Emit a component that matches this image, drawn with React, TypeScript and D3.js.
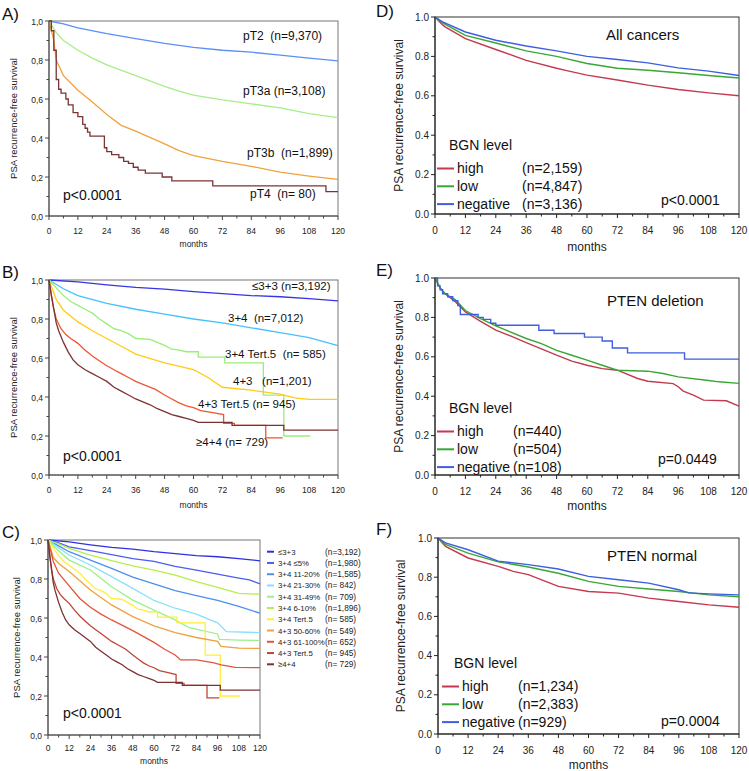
import React from 'react';
import * as d3 from 'd3';

type Pt = [number, number];

// ---------- panel A: pT stage ----------
const pT2: Pt[] = [[0,1],[6,0.985],[12,0.965],[24,0.935],[36,0.91],[48,0.885],[60,0.865],[72,0.85],[84,0.84],[96,0.825],[108,0.81],[120,0.795]];
const pT3a: Pt[] = [[0,1],[3,0.94],[6,0.9],[12,0.85],[18,0.81],[24,0.775],[36,0.72],[48,0.665],[54,0.64],[60,0.62],[72,0.595],[84,0.575],[96,0.555],[108,0.525],[120,0.505]];
const pT3b: Pt[] = [[0,1],[2,0.9],[3,0.8],[6,0.72],[12,0.645],[18,0.585],[24,0.52],[30,0.465],[36,0.435],[48,0.37],[54,0.335],[60,0.31],[72,0.28],[84,0.255],[96,0.225],[108,0.205],[120,0.188]];
const pT4: Pt[] = [[0,1],[1,0.95],[2,0.85],[3,0.7],[4,0.65],[5,0.63],[7,0.6],[8,0.57],[10,0.53],[12,0.51],[14,0.47],[15,0.45],[16,0.43],[17,0.41],[23,0.35],[24,0.33],[26,0.315],[29,0.3],[31,0.28],[33,0.27],[35,0.25],[37,0.235],[40,0.22],[47,0.2],[51,0.18],[68,0.155],[115,0.125],[120,0.125]];

// ---------- panels B / C: Gleason groups ----------
const gs33: Pt[] = [[0,1],[12,0.99],[24,0.975],[36,0.962],[48,0.953],[60,0.94],[72,0.93],[84,0.92],[96,0.914],[108,0.905],[120,0.893]];
const gs34: Pt[] = [[0,1],[6,0.955],[12,0.92],[24,0.88],[36,0.85],[48,0.825],[60,0.8],[72,0.78],[84,0.755],[96,0.73],[108,0.705],[120,0.663]];
const gs34t5: Pt[] = [[0,1],[3,0.96],[6,0.92],[9,0.89],[12,0.87],[15,0.85],[18,0.83],[21,0.8],[24,0.775],[27,0.75],[30,0.74],[33,0.725],[36,0.7],[42,0.695],[45,0.68],[48,0.665],[51,0.645],[54,0.64],[57,0.632],[62,0.632],[62,0.605],[73,0.605],[73,0.575],[89,0.575],[89,0.41],[97.5,0.41],[97.5,0.2],[108.5,0.2]];
const gs43: Pt[] = [[0,1],[3,0.9],[6,0.845],[12,0.785],[18,0.74],[24,0.7],[30,0.66],[36,0.62],[48,0.575],[60,0.54],[66,0.5],[72,0.45],[84,0.435],[96,0.415],[102,0.395],[108,0.388],[120,0.388]];
const gs43t5: Pt[] = [[0,1],[1,0.92],[2,0.85],[3,0.8],[5,0.75],[7,0.72],[9,0.7],[12,0.675],[15,0.64],[18,0.61],[21,0.585],[24,0.56],[27,0.54],[30,0.52],[33,0.5],[36,0.48],[40,0.46],[44,0.44],[48,0.41],[51,0.39],[54,0.37],[57,0.355],[60,0.345],[63,0.33],[68,0.32],[72.5,0.31],[72.5,0.265],[77,0.265],[77,0.255],[90,0.255],[90,0.19],[97,0.19]];
const gs44: Pt[] = [[0,1],[1,0.92],[2,0.85],[3,0.78],[4,0.74],[6,0.68],[8,0.63],[10,0.59],[12,0.565],[15,0.54],[18,0.52],[21,0.5],[24,0.48],[27,0.45],[30,0.43],[33,0.41],[36,0.39],[39,0.375],[42,0.36],[45,0.34],[48,0.325],[51,0.31],[54,0.3],[57,0.29],[60,0.28],[62,0.27],[76,0.27],[76,0.255],[97.5,0.255],[97.5,0.23],[120,0.23]];
const gs34p5: Pt[] = [[0,1],[6,0.985],[12,0.965],[24,0.945],[36,0.925],[48,0.905],[60,0.89],[72,0.865],[84,0.845],[96,0.825],[108,0.805],[114,0.795],[117,0.785],[120,0.775]];
const gs34p20: Pt[] = [[0,1],[6,0.97],[12,0.94],[24,0.897],[36,0.855],[48,0.81],[60,0.775],[72,0.74],[84,0.715],[96,0.69],[108,0.66],[120,0.625]];
const gs34p30: Pt[] = [[0,1],[6,0.96],[12,0.923],[24,0.872],[36,0.812],[48,0.752],[60,0.69],[72,0.65],[84,0.62],[96,0.575],[101,0.53],[120,0.525]];
const gs34p49: Pt[] = [[0,1],[6,0.945],[12,0.897],[24,0.846],[36,0.76],[48,0.692],[60,0.64],[72,0.59],[80,0.55],[96,0.518],[97,0.49],[108,0.487],[120,0.485]];
const gs34p10: Pt[] = [[0,1],[6,0.98],[12,0.957],[24,0.923],[36,0.894],[48,0.867],[60,0.846],[72,0.82],[84,0.786],[96,0.757],[108,0.726],[120,0.722]];
const gs43p60: Pt[] = [[0,1],[3,0.91],[6,0.88],[12,0.838],[24,0.744],[36,0.667],[48,0.607],[60,0.56],[72,0.525],[84,0.5],[96,0.48],[98,0.455],[108,0.445],[120,0.444]];
const gs43p100: Pt[] = [[0,1],[3,0.89],[6,0.83],[12,0.765],[18,0.7],[24,0.655],[30,0.62],[36,0.59],[48,0.535],[60,0.475],[66,0.44],[72,0.41],[75,0.385],[84,0.385],[94,0.37],[98,0.36],[106,0.347],[120,0.345]];

const cNames = ['≤3+3', '3+4 ≤5%', '3+4 11-20%', '3+4 21-30%', '3+4 31-49%', '3+4 6-10%', '3+4 Tert.5', '4+3 50-60%', '4+3 61-100%', '4+3 Tert.5', '≥4+4'];
const cCounts = ['(n=3,192)', '(n=1,980)', '(n=1,585)', '(n= 842)', '(n= 709)', '(n=1,896)', '(n= 585)', '(n= 549)', '(n= 652)', '(n= 945)', '(n= 729)'];
const cColors = ['#2f2fe6', '#4d5cf2', '#4a8ff2', '#88e0fa', '#9cf08c', '#b6ee4a', '#fff030', '#f0a040', '#e0553a', '#c04535', '#7d3232'];

// ---------- panels D-F: BGN level ----------
const dHigh: Pt[] = [[0,1],[3,0.96],[4,0.95],[12,0.89],[24,0.835],[36,0.78],[48,0.74],[52,0.728],[60,0.705],[72,0.68],[84,0.654],[96,0.632],[108,0.615],[120,0.6]];
const dLow: Pt[] = [[0,1],[3,0.97],[12,0.907],[24,0.868],[36,0.828],[48,0.8],[60,0.764],[72,0.74],[84,0.73],[96,0.717],[108,0.703],[120,0.69]];
const dNeg: Pt[] = [[0,1],[3,0.975],[12,0.924],[24,0.882],[36,0.853],[48,0.828],[60,0.8],[72,0.784],[84,0.767],[96,0.742],[108,0.725],[120,0.703]];
const eHigh: Pt[] = [[0,1],[2,0.95],[4,0.92],[8,0.88],[12,0.828],[18,0.78],[24,0.735],[30,0.705],[36,0.672],[42,0.64],[48,0.608],[54,0.578],[60,0.557],[66,0.54],[72,0.532],[80,0.49],[84,0.476],[94,0.464],[96,0.448],[98,0.426],[102,0.405],[106,0.38],[115,0.377],[120,0.35]];
const eLow: Pt[] = [[0,1],[2,0.95],[4,0.92],[8,0.89],[12,0.835],[18,0.794],[24,0.757],[36,0.693],[42,0.667],[48,0.633],[54,0.608],[60,0.583],[66,0.557],[72,0.532],[84,0.527],[90,0.515],[96,0.498],[108,0.48],[112,0.473],[120,0.465]];
const eNeg: Pt[] = [[0,1],[1,0.96],[2,0.94],[3,0.92],[5,0.905],[7,0.885],[9,0.86],[10,0.815],[17,0.8],[19,0.79],[22,0.77],[24,0.76],[41,0.735],[47,0.718],[59,0.7],[66,0.68],[70,0.645],[76,0.62],[98.5,0.588],[120,0.588]];
const fHigh: Pt[] = [[0,1],[3,0.957],[12,0.898],[24,0.855],[30,0.83],[36,0.813],[48,0.753],[60,0.727],[72,0.719],[84,0.693],[96,0.676],[108,0.659],[120,0.647]];
const fLow: Pt[] = [[0,1],[3,0.967],[12,0.923],[24,0.878],[36,0.852],[48,0.82],[60,0.779],[72,0.753],[84,0.74],[96,0.727],[108,0.71],[120,0.7]];
const fNeg: Pt[] = [[0,1],[3,0.975],[12,0.94],[24,0.882],[36,0.864],[48,0.842],[60,0.804],[72,0.787],[84,0.77],[96,0.736],[100,0.72],[108,0.715],[120,0.71]];

const bgnNames = ['high', 'low', 'negative'];
const bgnColors = ['#c3394f', '#3aa636', '#3d5fe0'];

const monthTicks = [0, 12, 24, 36, 48, 60, 72, 84, 96, 108, 120];
const survTicks = [0, 0.2, 0.4, 0.6, 0.8, 1];

const SANS = 'Liberation Sans, Arial, sans-serif';

type Series = { data: Pt[]; color: string; step?: boolean };
type Label = { x: number; y: number; text: string; size: number; anchor?: string };

function Panel(props: {
  box: [number, number, number, number];
  letter: string; lx: number; ly: number;
  eu: boolean;
  series: Series[];
  labels: Label[];
  titleX: number; monthsY: number; tickY: number;
}) {
  const { box, eu, series } = props;
  const [x0, y0, x1, y1] = box;
  const x = d3.scaleLinear().domain([0, 120]).range([x0, x1]);
  const y = d3.scaleLinear().domain([0, 1]).range([y1, y0]);
  const fmt = (v: number) => {
    const s = d3.format('.1f')(v);
    return eu ? s.replace('.', ',') : s;
  };
  const axisCol = eu ? '#444' : '#222';
  const tickSize = eu ? 8.5 : 10;
  const minorY = d3.range(0.1, 1, 0.2);
  const minorX = d3.range(6, 120, 12);
  return (
    <g fontFamily={SANS}>
      <text x={props.lx} y={props.ly} fontSize={17} fill="#111">{props.letter}</text>
      <rect x={x0} y={y0} width={x1 - x0} height={y1 - y0} fill="none" stroke={eu ? '#777' : '#333'} strokeWidth={1} />
      <clipPath id={'clip' + props.letter}>
        <rect x={x0} y={y0 - 2} width={x1 - x0 + 1} height={y1 - y0 + 2} />
      </clipPath>
      <g clipPath={`url(#clip${props.letter})`}>
        {series.map((s, i) => {
          const line = d3.line<Pt>().x(d => x(d[0])).y(d => y(d[1]))
            .curve(s.step ? d3.curveStepAfter : d3.curveLinear);
          return <path key={i} d={line(s.data) || ''} fill="none" stroke={s.color} strokeWidth={eu ? 1.3 : 1.4} />;
        })}
      </g>
      <line x1={x0} x2={x0} y1={y0} y2={y1} stroke={axisCol} />
      <line x1={x0} x2={x1} y1={y1} y2={y1} stroke={axisCol} />
      {survTicks.map(t => (
        <g key={'y' + t}>
          <line x1={x0 - 4} x2={x0} y1={y(t)} y2={y(t)} stroke={axisCol} />
          <text x={x0 - 6} y={y(t) + 3.5} fontSize={tickSize} textAnchor="end" fill="#222">{fmt(t)}</text>
        </g>
      ))}
      {minorY.map(t => (
        <line key={'my' + t} x1={x0 - 2.5} x2={x0} y1={y(t)} y2={y(t)} stroke={axisCol} />
      ))}
      {monthTicks.map(t => (
        <g key={'x' + t}>
          <line x1={x(t)} x2={x(t)} y1={y1} y2={y1 + 4} stroke={axisCol} />
          <text x={x(t)} y={props.tickY} fontSize={tickSize} textAnchor="middle" fill="#222">{t}</text>
        </g>
      ))}
      {minorX.map(t => (
        <line key={'mx' + t} x1={x(t)} x2={x(t)} y1={y1} y2={y1 + 2.5} stroke={axisCol} />
      ))}
      <text x={(x0 + x1) / 2} y={props.monthsY} fontSize={eu ? 8.5 : 12} textAnchor="middle" fill="#222">months</text>
      <text transform={`translate(${props.titleX},${(y0 + y1) / 2}) rotate(-90)`} fontSize={eu ? 9.5 : 12} textAnchor="middle" fill="#222">
        PSA recurrence-free survival
      </text>
      {props.labels.map((l, i) => (
        <text key={i} x={l.x} y={l.y} fontSize={l.size} textAnchor={l.anchor || 'start'} fill="#111" style={{ whiteSpace: 'pre' }}>{l.text}</text>
      ))}
    </g>
  );
}

function BgnLegend(props: { top: number; sx: number; nx: number; counts: string[] }) {
  const { top, sx, nx, counts } = props;
  return (
    <g fontFamily={SANS} fontSize={14} fill="#111">
      <text x={sx + 12} y={top}>BGN level</text>
      {bgnNames.map((n, i) => {
        const yy = top + 23 + i * 17.8;
        return (
          <g key={n}>
            <line x1={sx} x2={sx + 17} y1={yy - 4.5} y2={yy - 4.5} stroke={bgnColors[i]} strokeWidth={2} />
            <text x={sx + 20} y={yy}>{n}</text>
            <text x={nx} y={yy}>{counts[i]}</text>
          </g>
        );
      })}
    </g>
  );
}

export default function App() {
  const cSeries = [gs33, gs34p5, gs34p20, gs34p30, gs34p49, gs34p10, gs34t5, gs43p60, gs43p100, gs43t5, gs44];
  return (
    <svg width={749} height={771} style={{ display: 'block', position: 'absolute', left: 0, top: 0, background: '#fff' }}>
      <rect width={749} height={771} fill="#fff" />
      <Panel box={[49, 21, 338, 216]} letter="A)" lx={2} ly={20} eu titleX={17} monthsY={247} tickY={234}
        series={[
          { data: pT2, color: '#5b8ff5' },
          { data: pT3a, color: '#a6ee88' },
          { data: pT3b, color: '#f0a23e' },
          { data: pT4, color: '#7a3434', step: true },
        ]}
        labels={[
          { x: 243, y: 40, text: 'pT2  (n=9,370)', size: 12 },
          { x: 243, y: 95, text: 'pT3a (n=3,108)', size: 12 },
          { x: 247, y: 157, text: 'pT3b  (n=1,899)', size: 12 },
          { x: 250, y: 198, text: 'pT4  (n= 80)', size: 12 },
          { x: 63, y: 200, text: 'p<0.0001', size: 14 },
        ]} />
      <Panel box={[49, 280, 338, 475]} letter="B)" lx={2} ly={278} eu titleX={17} monthsY={508} tickY={493}
        series={[
          { data: gs33, color: '#3535e6' },
          { data: gs34, color: '#45c0ff' },
          { data: gs34t5, color: '#99ee77' },
          { data: gs43, color: '#ffcc11' },
          { data: gs43t5, color: '#ee5533' },
          { data: gs44, color: '#7d3232' },
        ]}
        labels={[
          { x: 252, y: 290, text: '≤3+3 (n=3,192)', size: 11.5 },
          { x: 228, y: 322, text: '3+4  (n=7,012)', size: 11.5 },
          { x: 225, y: 358, text: '3+4 Tert.5  (n= 585)', size: 11.5 },
          { x: 233, y: 385, text: '4+3   (n=1,201)', size: 11.5 },
          { x: 198, y: 408, text: '4+3 Tert.5 (n= 945)', size: 11.5 },
          { x: 196, y: 446, text: '≥4+4 (n= 729)', size: 11.5 },
          { x: 63, y: 461, text: 'p<0.0001', size: 14 },
        ]} />
      <Panel box={[48, 540, 260, 735]} letter="C)" lx={2} ly={538} eu titleX={20} monthsY={764} tickY={751}
        series={cSeries.map((d, i) => ({ data: d, color: cColors[i] }))}
        labels={[{ x: 63, y: 718, text: 'p<0.0001', size: 14 }]} />
      <g fontFamily={SANS} fontSize={8.3} fill="#222">
        {cNames.map((n, i) => {
          const yy = 551.7 + i * 11.26;
          return (
            <g key={n}>
              <line x1={267} x2={274} y1={yy} y2={yy} stroke={cColors[i]} strokeWidth={2} />
              <text x={278} y={yy + 3} fontSize={7.8}>{n}</text>
              <text x={325} y={yy + 3} style={{ whiteSpace: 'pre' }}>{cCounts[i]}</text>
            </g>
          );
        })}
      </g>
      <Panel box={[435, 17, 739, 214]} letter="D)" lx={376} ly={17} eu={false} titleX={403} monthsY={251} tickY={234}
        series={[
          { data: dHigh, color: bgnColors[0] },
          { data: dLow, color: bgnColors[1] },
          { data: dNeg, color: bgnColors[2] },
        ]}
        labels={[
          { x: 606, y: 40, text: 'All cancers', size: 15 },
          { x: 661, y: 205, text: 'p<0.0001', size: 14 },
        ]} />
      <BgnLegend top={150} sx={437} nx={522} counts={['(n=2,159)', '(n=4,847)', '(n=3,136)']} />
      <Panel box={[435, 278, 739, 475]} letter="E)" lx={376} ly={276} eu={false} titleX={403} monthsY={510} tickY={495}
        series={[
          { data: eHigh, color: bgnColors[0] },
          { data: eLow, color: bgnColors[1] },
          { data: eNeg, color: bgnColors[2], step: true },
        ]}
        labels={[
          { x: 607, y: 306, text: 'PTEN deletion', size: 15 },
          { x: 658, y: 464, text: 'p=0.0449', size: 14 },
        ]} />
      <BgnLegend top={413} sx={437} nx={513} counts={['(n=440)', '(n=504)', '(n=108)']} />
      <Panel box={[438, 538, 739, 734]} letter="F)" lx={376} ly={535} eu={false} titleX={405} monthsY={769} tickY={754}
        series={[
          { data: fHigh, color: bgnColors[0] },
          { data: fLow, color: bgnColors[1] },
          { data: fNeg, color: bgnColors[2] },
        ]}
        labels={[
          { x: 607, y: 561, text: 'PTEN normal', size: 15 },
          { x: 661, y: 726, text: 'p=0.0004', size: 14 },
        ]} />
      <BgnLegend top={668} sx={442} nx={518} counts={['(n=1,234)', '(n=2,383)', '(n=929)']} />
    </svg>
  );
}
